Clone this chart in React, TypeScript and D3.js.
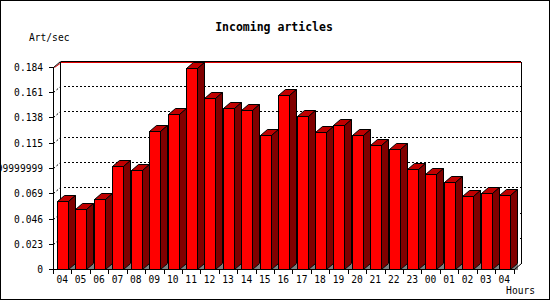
import React from "react";
import * as d3 from "d3";

const categories = ["04","05","06","07","08","09","10","11","12","13","14","15","16","17","18","19","20","21","22","23","00","01","02","03","04"];
const values = [0.062,0.055,0.0635,0.0935,0.090,0.1257,0.141,0.1828,0.1555,0.1464,0.1446,0.1218,0.1582,0.1391,0.1245,0.1309,0.1218,0.1127,0.109,0.0908,0.0868,0.079,0.0662,0.069,0.0671];
const yTicks = [0,0.023,0.046,0.069,0.092,0.115,0.138,0.161,0.184];
const yTickLabels = ["0","0.023","0.046","0.069","0.09199999999999999","0.115","0.138","0.161","0.184"];

const W = 550, H = 300;
const X0 = 53, X1 = 513.5, Y0 = 269, YT = 67;
const DX = 7, DY = 6;
const mono = "'DejaVu Sans Mono', monospace";

export default function App() {
  const x = d3.scaleBand<number>().domain(categories.map((_, i) => i)).range([X0, X1]).padding(0);
  const y = d3.scaleLinear().domain([0, 0.184]).range([Y0, YT]);
  const bw = x.bandwidth();
  const r = (v: number) => Math.round(v);
  const topY = r(YT) - DY + 0.5;

  return (
    <svg width={W} height={H} style={{ position: "absolute", left: 0, top: 0, background: "#fff" }} shapeRendering="crispEdges">
      <rect x={0.5} y={0.5} width={W - 1} height={H - 1} fill="#fff" stroke="#000" />
      <text x={274} y={31} textAnchor="middle" fontFamily={mono} fontWeight="bold" fontSize={11.5}>Incoming articles</text>
      <text x={29} y={41} fontFamily={mono} fontSize={9.6}>Art/sec</text>
      <text x={535} y={294} textAnchor="end" fontFamily={mono} fontSize={9.6}>Hours</text>

      {/* grid lines on back plane */}
      {yTicks.map((t, i) => {
        if (t === 0 || t === 0.184) return null;
        const yy = r(y(t)) + 0.5;
        return (
          <g key={"g" + i}>
            <line x1={X0 + 0.5} y1={yy} x2={X0 + DX + 0.5} y2={yy - DY} stroke="#000" strokeDasharray="2,2" shapeRendering="auto" />
            <line x1={X0 + DX + 4} y1={yy - DY} x2={X1 + DX} y2={yy - DY} stroke="#000" strokeDasharray="2,2" />
          </g>
        );
      })}
      {/* top gridline: red under black frame */}
      <line x1={X0 + 1.5} y1={r(YT) + 0.5} x2={X0 + DX + 1.5} y2={topY + 1} stroke="#e00000" shapeRendering="auto" />
      <line x1={X0 + DX} y1={topY + 1} x2={X1 + DX} y2={topY + 1} stroke="#e00000" />
      <line x1={X0 + 0.5} y1={r(YT) + 0.5} x2={X0 + DX + 0.5} y2={topY} stroke="#000" shapeRendering="auto" />
      {/* back plane frame */}
      <line x1={X0 + DX + 0.5} y1={topY} x2={X1 + DX + 0.5} y2={topY} stroke="#000" />
      <line x1={X0 + DX + 0.5} y1={topY} x2={X0 + DX + 0.5} y2={Y0 - DY + 0.5} stroke="#000" />
      <line x1={r(X1 + DX) + 0.5} y1={topY} x2={r(X1 + DX) + 0.5} y2={Y0 - DY + 0.5} stroke="#000" />

      {/* bars */}
      {values.map((v, i) => {
        const bx0 = r((x(i) as number) + bw * 0.22) + 0.5;
        const bx1 = bx0 + r(bw * 0.6);
        const yt = r(y(v)) + 0.5;
        const yb = Y0 + 0.5;
        return (
          <g key={"b" + i} stroke="#000" strokeWidth={1} strokeLinejoin="miter">
            <polygon points={`${bx1},${yb} ${bx1 + DX},${yb - DY} ${bx1 + DX},${yb}`} fill="#808080" stroke="none" />
            <polygon points={`${bx0},${yt} ${bx0 + DX},${yt - DY} ${bx1 + DX},${yt - DY} ${bx1},${yt}`} fill="#c00000" shapeRendering="auto" />
            <polygon points={`${bx1},${yt} ${bx1 + DX},${yt - DY} ${bx1 + DX},${yb - DY} ${bx1},${yb}`} fill="#800000" shapeRendering="auto" />
            <rect x={bx0} y={yt} width={bx1 - bx0} height={yb - yt} fill="#ff0000" />
          </g>
        );
      })}

      {/* front axes */}
      <line x1={X0 + 0.5} y1={r(YT) + 0.5} x2={X0 + 0.5} y2={Y0 + 0.5} stroke="#000" />
      <line x1={X0 + 0.5} y1={Y0 + 0.5} x2={r(X1) + 0.5} y2={Y0 + 0.5} stroke="#000" />
      <line x1={r(X1) + 0.5} y1={Y0 + 0.5} x2={r(X1 + DX) + 0.5} y2={Y0 - DY + 0.5} stroke="#000" shapeRendering="auto" />
      {yTicks.map((t, i) => {
        const yy = r(y(t)) + 0.5;
        return (
          <g key={"yt" + i}>
            <line x1={X0 - 4} y1={yy} x2={X0 + 0.5} y2={yy} stroke="#000" />
            <text x={43} y={yy + 3.5} textAnchor="end" fontFamily={mono} fontSize={9.6}>{yTickLabels[i]}</text>
          </g>
        );
      })}
      {categories.map((c, i) => {
        const xs = r(x(i) as number) + 0.5;
        return (
          <g key={"xt" + i}>
            <line x1={xs} y1={Y0 + 0.5} x2={xs} y2={Y0 + 5} stroke="#000" />
            <text x={(x(i) as number) + bw / 2} y={283} textAnchor="middle" fontFamily={mono} fontSize={9.6}>{c}</text>
          </g>
        );
      })}
      <line x1={r(X1) + 0.5} y1={Y0 + 0.5} x2={r(X1) + 0.5} y2={Y0 + 5} stroke="#000" />
    </svg>
  );
}
